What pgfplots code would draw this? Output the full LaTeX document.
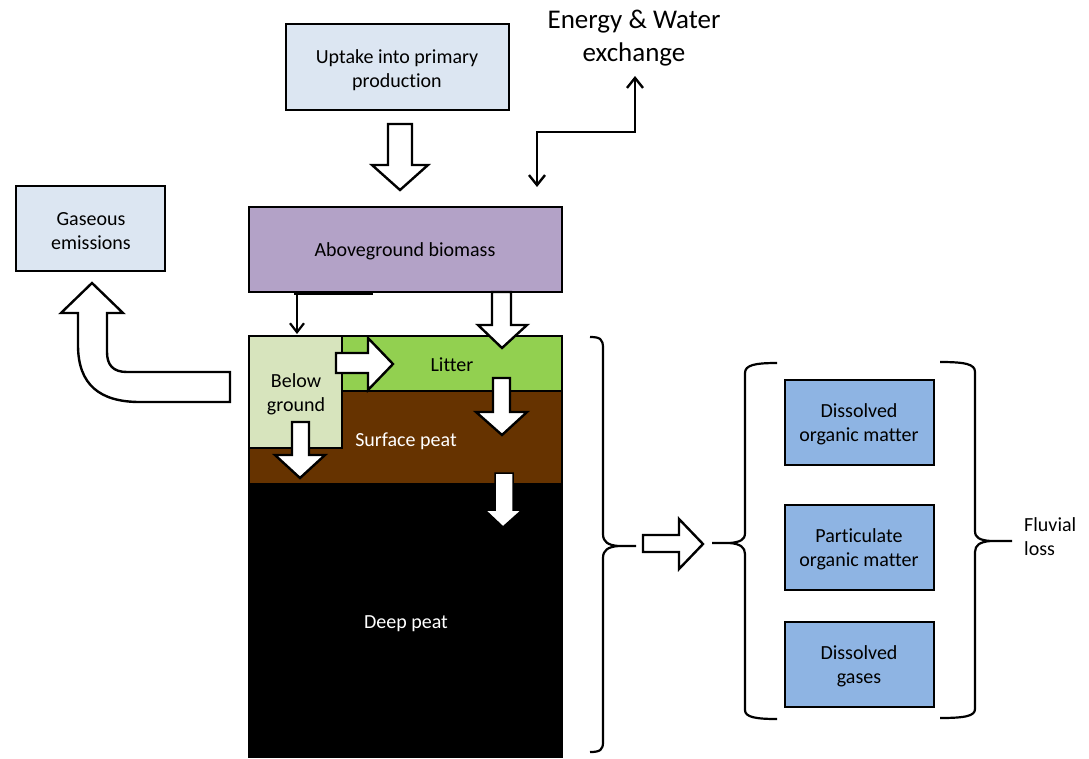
\documentclass[border=0pt]{standalone}
\usepackage{pgfplots}
\pgfplotsset{compat=1.18}
\usepackage{fontspec}
\setmainfont{Carlito}[Ligatures={NoCommon}]
\usetikzlibrary{arrows.meta}
\definecolor{lightbox}{HTML}{DCE6F2}
\definecolor{purplebox}{HTML}{B3A2C7}
\definecolor{belowbox}{HTML}{D7E4BD}
\definecolor{litterbox}{HTML}{92D050}
\definecolor{peatbox}{HTML}{663300}
\definecolor{bluebox}{HTML}{8EB4E3}
\begin{document}
\begin{tikzpicture}
\begin{axis}[
  width=1089pt, height=757pt, scale only axis,
  xmin=0, xmax=1089, ymin=0, ymax=757, y dir=reverse,
  hide axis, clip=false,
]
\tikzset{bx/.style={draw=black, line width=2.6pt},
  txt/.style={font=\fontsize{20}{24}\selectfont, align=center, inner sep=0pt},
  barrow/.style={draw=black, fill=white, line width=2.4pt, line join=miter}}
\path (0,0) rectangle (1089,757);
% boxes
\addplot[bx, fill=lightbox] coordinates {(286,24)(509,24)(509,110)(286,110)} -- cycle;
\addplot[bx, fill=lightbox] coordinates {(16,186)(165,186)(165,271)(16,271)} -- cycle;
\addplot[bx, fill=purplebox] coordinates {(249,207)(562,207)(562,292)(249,292)} -- cycle;
\addplot[fill=black, draw=black, line width=2.6pt] coordinates {(249,484)(562,484)(562,757)(249,757)} -- cycle;
\addplot[bx, fill=peatbox] coordinates {(249,391)(562,391)(562,484)(249,484)} -- cycle;
\addplot[bx, fill=litterbox] coordinates {(342,336)(562,336)(562,391)(342,391)} -- cycle;
\addplot[bx, fill=belowbox] coordinates {(249,336)(342,336)(342,448)(249,448)} -- cycle;
\addplot[bx, fill=bluebox] coordinates {(785,380)(934,380)(934,465)(785,465)} -- cycle;
\addplot[bx, fill=bluebox] coordinates {(785,505)(934,505)(934,590)(785,590)} -- cycle;
\addplot[bx, fill=bluebox] coordinates {(785,622)(934,622)(934,707)(785,707)} -- cycle;
% texts
\node[txt] at (397,70) {Uptake into primary\\production};
\node[txt] at (91,231) {Gaseous\\emissions};
\node[txt] at (405,251) {Aboveground biomass};
\node[txt] at (452,365) {Litter};
\node[txt] at (296,394) {Below\\ground};
\node[txt, text=white] at (406,441) {Surface peat};
\node[txt, text=white] at (406,624) {Deep peat};
\node[txt] at (859,424) {Dissolved\\organic matter};
\node[txt] at (859,549) {Particulate\\organic matter};
\node[txt] at (859,666) {Dissolved\\gases};
\node[font=\fontsize{27}{33}\selectfont, align=center, inner sep=0pt] at (634,38) {Energy \& Water\\exchange};
\node[txt, align=left, anchor=west] at (1024,537) {Fluvial\\loss};
% block arrows
\addplot[barrow] coordinates {(388,124)(412,124)(412,165)(428,165)(400,190)(372,165)(388,165)} -- cycle;
\addplot[barrow] coordinates {(492,292)(511,292)(511,325)(527,325)(502,348)(478,325)(492,325)} -- cycle;
\addplot[barrow] coordinates {(336,353)(368,353)(368,338)(393,364)(368,390)(368,373)(336,373)} -- cycle;
\addplot[barrow] coordinates {(493,378)(510,378)(510,412)(527,412)(502,435)(476,412)(493,412)} -- cycle;
\addplot[barrow] coordinates {(292,422)(309,422)(309,455)(325,455)(300,478)(275,455)(292,455)} -- cycle;
\addplot[draw=black, fill=white, line width=1.5pt] coordinates {(495,473)(513,473)(513,510)(522,510)(503,527)(485,510)(495,510)} -- cycle;
\addplot[barrow] coordinates {(643,535)(679,535)(679,519)(703,544)(679,569)(679,552)(643,552)} -- cycle;
% bent arrow to gaseous emissions
\draw[barrow] (230,372) -- (127,372) .. controls (113,372) and (107,365) .. (107,352) -- (107,313) -- (123,313) -- (92,283) -- (61,313) -- (78,313) -- (78,345) .. controls (78,385) and (100,402) .. (140,402) -- (230,402) -- cycle;
% line arrows
\draw[line width=3pt] (294,293) -- (373,293);
\draw[line width=2.2pt, -{Straight Barb[length=9pt,width=14pt]}] (297,292) -- (297,334);
\draw[line width=2.4pt, {Straight Barb[length=10pt,width=16pt]}-{Straight Barb[length=10pt,width=16pt]}] (537,187) -- (537,132) -- (635,132) -- (635,76);
% braces
\draw[line width=2.2pt] (590,337) .. controls (600,337) and (603,339) .. (603,348) -- (603,534) .. controls (603,542) and (608,545) .. (618,546) -- (636,546);
\draw[line width=2.2pt] (618,546) .. controls (608,547) and (603,550) .. (603,558) -- (603,742) .. controls (603,750) and (600,752) .. (590,752);
\draw[line width=2.2pt] (777,363) .. controls (755,363) and (745,365) .. (745,373) -- (745,533) .. controls (745,540) and (740,542) .. (730,543) -- (712,543);
\draw[line width=2.2pt] (730,543) .. controls (740,544) and (745,547) .. (745,554) -- (745,710) .. controls (745,717) and (755,719) .. (777,719);
\draw[line width=2.2pt] (940,362) .. controls (965,362) and (975,364) .. (975,372) -- (975,531) .. controls (975,538) and (980,540) .. (990,541) -- (1012,541);
\draw[line width=2.2pt] (990,541) .. controls (980,542) and (975,545) .. (975,552) -- (975,709) .. controls (975,716) and (965,718) .. (940,718);
\end{axis}
\end{tikzpicture}
\end{document}
